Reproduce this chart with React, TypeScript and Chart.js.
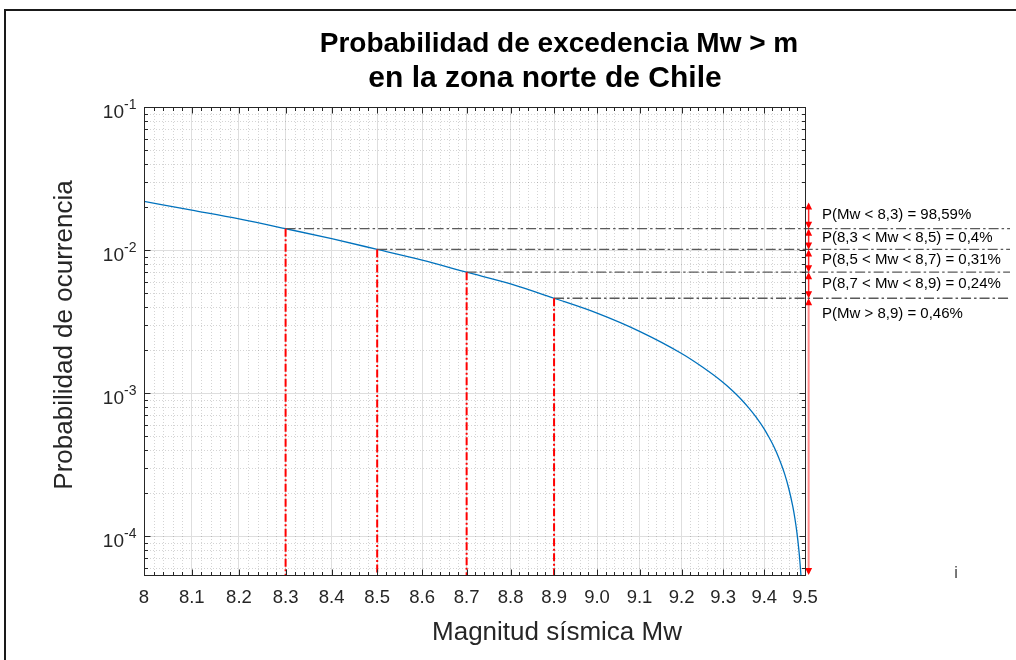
import React, { useEffect, useRef } from 'react';
import { Chart, registerables } from 'chart.js';

Chart.register(...registerables);

// ---- data ----
const magnitudes = [
  8.0, 8.1, 8.2, 8.3, 8.4, 8.5, 8.6, 8.7, 8.8, 8.9, 9.0, 9.1, 9.2, 9.25, 9.3, 9.32, 9.34, 9.36,
  9.38, 9.4, 9.41, 9.42, 9.43, 9.44, 9.45, 9.46, 9.47, 9.475, 9.48, 9.485, 9.488, 9.49, 9.492,
];
const exceedance = [
  0.0219, 0.019, 0.0165, 0.0141, 0.012, 0.0101, 0.0085, 0.007, 0.0058, 0.0046, 0.00362, 0.0027,
  0.00189, 0.00152, 0.001186, 0.001055, 0.000927, 0.0008, 0.000678, 0.000559, 0.000499, 0.000442,
  0.000384, 0.000326, 0.000271, 0.000215, 0.0001605, 0.0001332, 0.000106, 0.0000792, 0.0000633,
  0.0000527, 0.0000418,
];

const xTickValues = [8, 8.1, 8.2, 8.3, 8.4, 8.5, 8.6, 8.7, 8.8, 8.9, 9.0, 9.1, 9.2, 9.3, 9.4, 9.5];
const xTickLabels = ['8', '8.1', '8.2', '8.3', '8.4', '8.5', '8.6', '8.7', '8.8', '8.9', '9.0', '9.1', '9.2', '9.3', '9.4', '9.5'];
const yDecadeValues = [1e-4, 1e-3, 1e-2, 1e-1];
const yDecadeExponents = ['-4', '-3', '-2', '-1'];

const xMin = 8;
const xMax = 9.5;
const yMin = 5.34e-5;
const yMax = 0.1;

const cutMagnitudes = [8.3, 8.5, 8.7, 8.9];
const cutProbabilities = [0.0141, 0.0101, 0.007, 0.0046];
const rangeLabels = [
  'P(Mw < 8,3) = 98,59%',
  'P(8,3 < Mw < 8,5) = 0,4%',
  'P(8,5 < Mw < 8,7) = 0,31%',
  'P(8,7 < Mw < 8,9) = 0,24%',
  'P(Mw > 8,9) = 0,46%',
];
const arrowTopProbability = 0.0215;
const arrowMagnitude = 9.509;

const titleLines = ['Probabilidad de excedencia Mw > m', 'en la zona norte de Chile'];
const xAxisTitle = 'Magnitud sísmica Mw';
const yAxisTitle = 'Probabilidad de ocurrencia';

const FONT = '"Liberation Sans", Arial, Helvetica, sans-serif';
const AXIS_COLOR = '#262626';

function line(ctx: CanvasRenderingContext2D, x1: number, y1: number, x2: number, y2: number) {
  ctx.beginPath();
  ctx.moveTo(x1, y1);
  ctx.lineTo(x2, y2);
  ctx.stroke();
}

function arrowHead(ctx: CanvasRenderingContext2D, x: number, y: number, dir: number) {
  // dir = -1 : pointing up (tip at y), dir = 1 : pointing down
  ctx.beginPath();
  ctx.moveTo(x, y);
  ctx.lineTo(x - 3.5, y - dir * 7);
  ctx.lineTo(x + 3.5, y - dir * 7);
  ctx.closePath();
  ctx.fill();
}

const decorPlugin = {
  id: 'decor',
  beforeDatasetsDraw(chart: any) {
    const { ctx, chartArea, scales } = chart;
    const { left, right, top, bottom } = chartArea;
    const x = scales.x;
    const y = scales.y;
    ctx.save();
    ctx.strokeStyle = 'rgba(0,0,0,0.17)';
    ctx.lineWidth = 1;
    ctx.setLineDash([1, 2]);
    for (let i = 401; i < 475; i++) {
      if (i % 5 === 0) continue;
      const px = Math.round(x.getPixelForValue(i / 50)) + 0.5;
      line(ctx, px, top, px, bottom);
    }
    for (let e = -5; e <= -1; e++) {
      for (let k = 2; k <= 9; k++) {
        const v = k * Math.pow(10, e);
        if (v < yMin || v > yMax) continue;
        const py = Math.round(y.getPixelForValue(v)) + 0.5;
        line(ctx, left, py, right, py);
      }
    }
    ctx.restore();
  },
  afterDatasetsDraw(chart: any) {
    const { ctx, chartArea, scales } = chart;
    const { bottom } = chartArea;
    const x = scales.x;
    const y = scales.y;
    ctx.save();
    // horizontal dash-dot lines
    ctx.strokeStyle = '#5a5a5a';
    ctx.lineWidth = 1.3;
    ctx.setLineDash([10, 3, 2.5, 3]);
    cutMagnitudes.forEach((m, i) => {
      const py = y.getPixelForValue(cutProbabilities[i]);
      line(ctx, x.getPixelForValue(m), py, 1010, py);
    });
    // red vertical dash-dot lines
    ctx.strokeStyle = '#ff0000';
    ctx.lineWidth = 2;
    ctx.setLineDash([8, 2.5, 2, 2.5]);
    cutMagnitudes.forEach((m, i) => {
      const px = x.getPixelForValue(m);
      line(ctx, px, y.getPixelForValue(cutProbabilities[i]), px, bottom);
    });
    ctx.setLineDash([]);
    // double arrows
    const ax = x.getPixelForValue(arrowMagnitude);
    const bounds = [arrowTopProbability, ...cutProbabilities, yMin];
    for (let i = 0; i < bounds.length - 1; i++) {
      const y1 = y.getPixelForValue(bounds[i]);
      const y2 = i === bounds.length - 2 ? bottom : y.getPixelForValue(bounds[i + 1]);
      ctx.strokeStyle = i < bounds.length - 2 ? '#ff2a2a' : '#ff8a8a';
      ctx.lineWidth = i < bounds.length - 2 ? 1.5 : 2;
      line(ctx, ax, y1 + 2, ax, y2 - 2);
      ctx.fillStyle = '#ff0000';
      arrowHead(ctx, ax, y1, -1);
      arrowHead(ctx, ax, y2, 1);
      // labels
      ctx.fillStyle = '#000';
      ctx.font = `15px ${FONT}`;
      ctx.textAlign = 'left';
      ctx.textBaseline = 'middle';
      const ty = i < bounds.length - 2 ? (y1 + y2) / 2 - 1 : y1 + 16;
      ctx.fillText(rangeLabels[i], 822, ty);
    }
    ctx.restore();
  },
  afterDraw(chart: any) {
    const { ctx, chartArea, scales } = chart;
    const { left, right, top, bottom } = chartArea;
    const x = scales.x;
    const y = scales.y;
    ctx.save();
    ctx.setLineDash([]);
    ctx.strokeStyle = AXIS_COLOR;
    ctx.lineWidth = 1;
    const L = Math.round(left) + 0.5;
    const R = Math.round(right) + 0.5;
    const T = Math.round(top) + 0.5;
    const B = Math.round(bottom) + 0.5;
    ctx.strokeRect(L, T, R - L, B - T);
    // x ticks (inward, top & bottom)
    for (let i = 400; i <= 475; i++) {
      const len = i % 5 === 0 ? 6 : 3.5;
      const px = Math.round(x.getPixelForValue(i / 50)) + 0.5;
      line(ctx, px, B, px, B - len);
      line(ctx, px, T, px, T + len);
    }
    // y ticks (inward, left & right)
    for (let e = -5; e <= -1; e++) {
      for (let k = 1; k <= 9; k++) {
        const v = k * Math.pow(10, e);
        if (v < yMin || v > yMax * 1.0001) continue;
        const len = k === 1 ? 6 : 3.5;
        const py = Math.round(y.getPixelForValue(v)) + 0.5;
        line(ctx, L, py, L + len, py);
        line(ctx, R, py, R - len, py);
      }
    }
    // y tick labels 10^k
    ctx.fillStyle = AXIS_COLOR;
    yDecadeValues.forEach((v, i) => {
      const py = y.getPixelForValue(v);
      ctx.font = `19px ${FONT}`;
      ctx.textAlign = 'right';
      ctx.textBaseline = 'alphabetic';
      ctx.fillText('10', 124, py + 11);
      ctx.font = `14px ${FONT}`;
      ctx.textAlign = 'left';
      ctx.fillText(yDecadeExponents[i], 124, py + 2);
    });
    // axis titles
    ctx.font = `26px ${FONT}`;
    ctx.textAlign = 'center';
    ctx.textBaseline = 'alphabetic';
    ctx.fillText(xAxisTitle, 557, 640);
    ctx.save();
    ctx.translate(72, 335);
    ctx.rotate(-Math.PI / 2);
    ctx.fillText(yAxisTitle, 0, 0);
    ctx.restore();
    // title
    ctx.fillStyle = '#000';
    ctx.font = `bold 28px ${FONT}`;
    ctx.fillText(titleLines[0], 559, 52);
    ctx.font = `bold 30px ${FONT}`;
    ctx.fillText(titleLines[1], 545, 87);
    // stray glyph at right
    ctx.font = `16px ${FONT}`;
    ctx.fillStyle = '#444';
    ctx.fillText('i', 956, 578);
    // figure frame
    ctx.strokeStyle = '#1a1a1a';
    ctx.lineWidth = 2;
    ctx.beginPath();
    ctx.moveTo(5, 662);
    ctx.lineTo(5, 10);
    ctx.lineTo(1018, 10);
    ctx.stroke();
    ctx.restore();
  },
};

export default function App() {
  const canvasRef = useRef<HTMLCanvasElement | null>(null);

  useEffect(() => {
    document.body.style.margin = '0';
    const canvas = canvasRef.current;
    if (!canvas) return;
    const chart = new Chart(canvas, {
      type: 'line',
      data: {
        datasets: [
          {
            data: magnitudes.map((m, i) => ({ x: m, y: exceedance[i] })),
            borderColor: '#0072BD',
            borderWidth: 1.3,
            pointRadius: 0,
            cubicInterpolationMode: 'monotone',
            fill: false,
          },
        ],
      },
      options: {
        responsive: false,
        animation: false,
        events: [],
        layout: { padding: { top: 107, right: 211, left: 0, bottom: 0 } },
        plugins: { legend: { display: false }, tooltip: { enabled: false }, title: { display: false } },
        scales: {
          x: {
            type: 'logarithmic',
            min: xMin,
            max: xMax,
            afterBuildTicks: (scale: any) => {
              scale.ticks = xTickValues.map((v) => ({ value: v, major: true }));
            },
            afterFit: (scale: any) => {
              scale.height = 85;
            },
            ticks: {
              autoSkip: false,
              maxRotation: 0,
              minRotation: 0,
              padding: 12,
              color: AXIS_COLOR,
              font: { family: FONT, size: 18.5 },
              callback: (_v: any, index: number) => xTickLabels[index] ?? '',
            },
            grid: { color: '#dedede', lineWidth: 1, drawTicks: false },
            border: { display: false },
          },
          y: {
            type: 'logarithmic',
            min: yMin,
            max: yMax,
            afterBuildTicks: (scale: any) => {
              scale.ticks = yDecadeValues.map((v) => ({ value: v, major: true }));
            },
            afterFit: (scale: any) => {
              scale.width = 144;
            },
            ticks: { display: false },
            grid: { color: '#dedede', lineWidth: 1, drawTicks: false },
            border: { display: false },
          },
        },
      },
      plugins: [decorPlugin],
    } as any);
    return () => chart.destroy();
  }, []);

  return (
    <div style={{ position: 'fixed', left: 0, top: 0, width: 1016, height: 660, background: '#fff' }}>
      <canvas ref={canvasRef} width={1016} height={660} />
    </div>
  );
}
